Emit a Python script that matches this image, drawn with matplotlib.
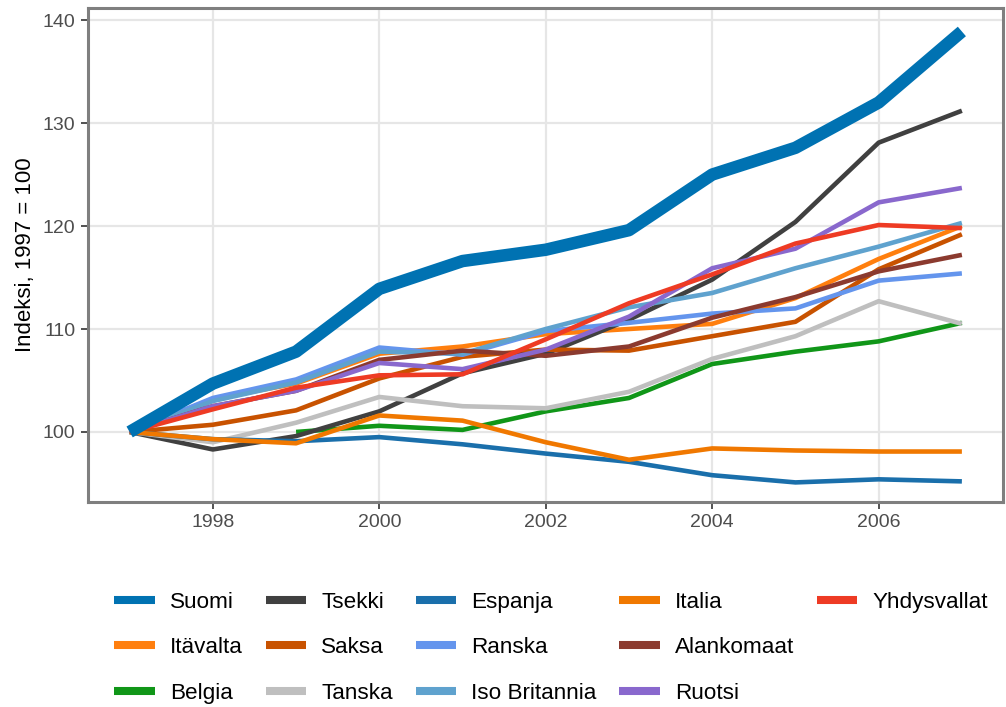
import matplotlib
matplotlib.use('Agg')
import matplotlib.pyplot as plt
from matplotlib.lines import Line2D

plt.rcParams['font.family'] = ['Liberation Sans', 'DejaVu Sans']

# Vuodet ja indeksit (1997 = 100)
vuodet = [1997, 1998, 1999, 2000, 2001, 2002, 2003, 2004, 2005, 2006, 2007]
vuodet_belgia = vuodet[2:]

suomi = [100.0, 104.7, 107.8, 113.9, 116.6, 117.7, 119.6, 125.0, 127.6, 132.0, 138.9]
itavalta = [100.0, 103.2, 104.7, 107.6, 108.3, 109.5, 110.0, 110.5, 113.0, 116.8, 120.0]
belgia = [100.0, 100.6, 100.2, 102.0, 103.3, 106.6, 107.8, 108.8, 110.6]
tsekki = [100.0, 98.3, 99.6, 102.0, 105.7, 107.6, 110.9, 114.8, 120.4, 128.1, 131.2]
saksa = [100.0, 100.7, 102.1, 105.2, 107.3, 108.0, 107.9, 109.3, 110.7, 115.8, 119.2]
tanska = [100.0, 99.0, 100.9, 103.4, 102.5, 102.3, 103.9, 107.1, 109.3, 112.7, 110.5]
espanja = [100.0, 99.3, 99.1, 99.5, 98.8, 97.9, 97.1, 95.8, 95.1, 95.4, 95.2]
ranska = [100.0, 103.3, 105.1, 108.2, 107.5, 109.8, 110.6, 111.5, 112.0, 114.7, 115.4]
iso_britannia = [100.0, 103.0, 104.8, 107.8, 107.6, 110.0, 112.1, 113.5, 115.9, 118.0, 120.3]
italia = [100.0, 99.3, 98.9, 101.6, 101.1, 99.0, 97.3, 98.4, 98.2, 98.1, 98.1]
alankomaat = [100.0, 102.5, 104.0, 107.0, 107.9, 107.4, 108.3, 111.1, 113.1, 115.6, 117.2]
ruotsi = [100.0, 102.5, 104.0, 106.7, 106.1, 108.0, 111.2, 115.9, 117.8, 122.3, 123.7]
yhdysvallat = [100.0, 102.2, 104.3, 105.5, 105.6, 109.0, 112.5, 115.3, 118.3, 120.1, 119.8]

maat = ['Suomi', 'Itävalta', 'Belgia', 'Tsekki', 'Saksa', 'Tanska', 'Espanja',
        'Ranska', 'Iso Britannia', 'Italia', 'Alankomaat', 'Ruotsi', 'Yhdysvallat']
arvot = [suomi, itavalta, belgia, tsekki, saksa, tanska, espanja,
         ranska, iso_britannia, italia, alankomaat, ruotsi, yhdysvallat]
varit = ['#0072b2', '#ff7f0e', '#109618', '#404040', '#c85200', '#bfbfbf', '#1a6fab',
         '#6495ed', '#5fa2ce', '#f07800', '#8b3a2f', '#8968cd', '#ee3b24']

fig = plt.figure(figsize=(10.06, 7.07), dpi=100)
ax = fig.add_axes([0.0875, 0.29, 0.91, 0.699])

# muut maat ensin, Suomi paksulla viivalla päälle
for nimi, y, c in zip(maat[1:], arvot[1:], varit[1:]):
    x = vuodet_belgia if nimi == 'Belgia' else vuodet
    ax.plot(x, y, color=c, lw=3.3, solid_capstyle='butt', solid_joinstyle='round')
ax.plot(vuodet, suomi, color=varit[0], lw=9, solid_capstyle='butt',
        solid_joinstyle='round', zorder=5)

ax.set_xlim(1996.5, 2007.5)
ax.set_ylim(93.2, 141.2)
ax.set_xticks([1998, 2000, 2002, 2004, 2006])
ax.set_yticks([100, 110, 120, 130, 140])
ax.grid(True, color='#e6e6e6', lw=1.6)
ax.set_axisbelow(True)
for s in ax.spines.values():
    s.set_color('#7f7f7f')
    s.set_linewidth(2.2)
ax.tick_params(length=5, width=1.2, color='#333333', labelcolor='#4d4d4d',
               labelsize=14, pad=4)
ax.set_ylabel('Indeksi, 1997 = 100', fontsize=16, color='black', labelpad=5)

# legenda: sarakkeittain, 3 riviä
kahvat = [Line2D([], [], color=c, lw=5.8, solid_capstyle='butt') for c in varit]
nimet = list(maat)
kahvat += [Line2D([], [], color='none')] * 2
nimet += ['', '']
fig.legend(kahvat, nimet, ncol=5, loc='center', bbox_to_anchor=(0.548, 0.084),
           frameon=False, fontsize=16.2, handlelength=1.8, handletextpad=0.68,
           columnspacing=1.0, labelspacing=1.09, borderpad=0)

fig.savefig('out.png', dpi=100)
